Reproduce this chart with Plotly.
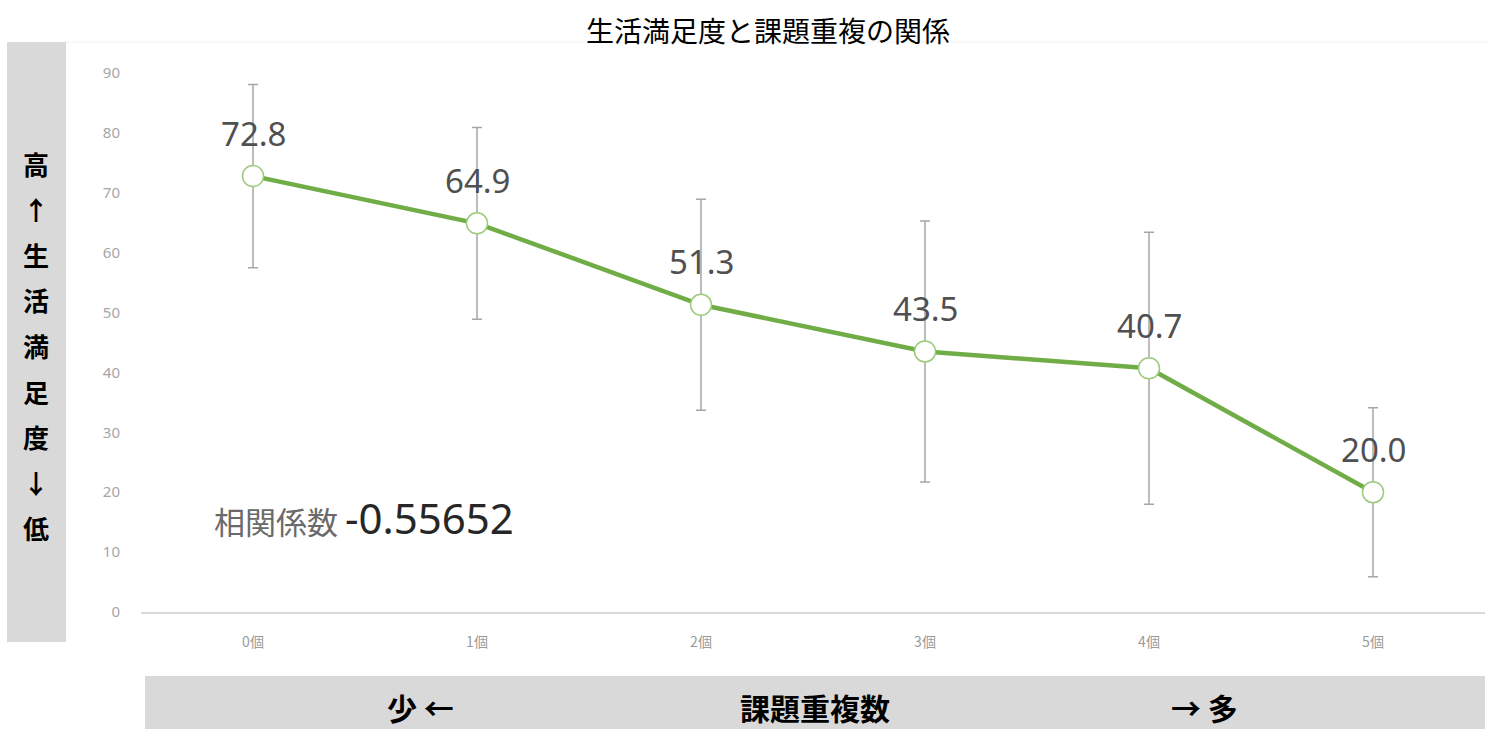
import plotly.graph_objects as go

# ---- data ----
categories = ["0個", "1個", "2個", "3個", "4個", "5個"]
satisfaction = [72.8, 64.9, 51.3, 43.5, 40.7, 20.0]
error_sd = [15.3, 16.0, 17.6, 21.8, 22.7, 14.1]
y_ticks = [0, 10, 20, 30, 40, 50, 60, 70, 80, 90]
corr_label = "相関係数"
corr_value = "-0.55652"
title_text = "生活満足度と課題重複の関係"
y_label_chars = ["高", "↑", "生", "活", "満", "足", "度", "↓", "低"]
x_label_left = "少 ←"
x_label_mid = "課題重複数"
x_label_right = "→ 多"

W, H = 1489, 729
ML, MR, MT, MB = 141, 4, 73, 117
PW = W - ML - MR
PH = H - MT - MB


def px_x(px):
    return (px - ML) / PW


def px_y(py):
    return (H - MB - py) / PH


FONT = "Noto Sans CJK JP"
GREEN = "#70AD47"

fig = go.Figure()
fig.add_trace(go.Scatter(
    x=categories, y=satisfaction, mode="lines+markers",
    line=dict(color=GREEN, width=4.5),
    marker=dict(size=21, color="white", line=dict(color="#9CCB7E", width=1.5)),
    error_y=dict(type="data", array=error_sd, visible=True,
                 color="#A6A6A6", thickness=1.5, width=5),
    showlegend=False, hoverinfo="x+y",
))

annotations = []
for c, v in zip(categories, satisfaction):
    annotations.append(dict(
        x=c, y=v, xref="x", yref="y", text=f"{v:.1f}", showarrow=False,
        yshift=43, font=dict(family="Noto Sans", size=33, color="#505050"),
        xanchor="center", yanchor="middle"))

# correlation
annotations.append(dict(
    x=px_x(212), y=px_y(517), xref="paper", yref="paper", xanchor="left", yanchor="middle",
    showarrow=False,
    text=(f"<span style='font-size:31px;color:#6a6a6a'>{corr_label} </span>"
          f"<span style='font-size:42px;color:#262626;font-family:Noto Sans'>{corr_value}</span>"),
    font=dict(family=FONT, size=31)))

# title
annotations.append(dict(
    x=px_x(768), y=px_y(30), xref="paper", yref="paper", xanchor="center", yanchor="middle",
    showarrow=False, text=title_text, font=dict(family=FONT, size=28, color="#000000")))

# y label characters
for i, ch in enumerate(y_label_chars):
    annotations.append(dict(
        x=px_x(36), y=px_y(163 + i * 45.6), xref="paper", yref="paper",
        xanchor="center", yanchor="middle", showarrow=False,
        text=f"<b>{ch}</b>", font=dict(family=FONT, size=26, color="#000000")))

# x label texts
for txt, cx in [(x_label_left, 420), (x_label_mid, 815), (x_label_right, 1204)]:
    annotations.append(dict(
        x=px_x(cx), y=px_y(707), xref="paper", yref="paper",
        xanchor="center", yanchor="middle", showarrow=False,
        text=f"<b>{txt}</b>", font=dict(family=FONT, size=30, color="#000000")))

shapes = [
    dict(type="rect", xref="paper", yref="paper", x0=px_x(7), x1=px_x(66),
         y0=px_y(642), y1=px_y(42), fillcolor="#D9D9D9", line=dict(width=0), layer="below"),
    dict(type="rect", xref="paper", yref="paper", x0=px_x(145), x1=px_x(1485),
         y0=px_y(729), y1=px_y(676), fillcolor="#D9D9D9", line=dict(width=0), layer="below"),
    dict(type="line", xref="paper", yref="paper", x0=px_x(66), x1=px_x(1489),
         y0=px_y(42), y1=px_y(42), line=dict(color="#F2F2F2", width=1)),
]

fig.update_layout(
    width=W, height=H,
    margin=dict(l=ML, r=MR, t=MT, b=MB, pad=0),
    paper_bgcolor="white", plot_bgcolor="white",
    annotations=annotations, shapes=shapes,
    xaxis=dict(type="category", range=[-0.5, len(categories) - 0.5],
               showgrid=False, zeroline=False, showline=True,
               linecolor="#D9D9D9", linewidth=1.5, ticks="",
               tickfont=dict(family=FONT, size=14, color="#9A9A9A"),
               ticklabelstandoff=16),
    yaxis=dict(range=[0, 90], tickvals=y_ticks, showgrid=False, zeroline=False,
               showline=False, ticks="",
               tickfont=dict(family="Noto Sans", size=15, color="#A6A6A6"),
               ticklabelstandoff=20),
)

fig.write_html(
    "out.html",
    config={"displayModeBar": False},
    post_script="document.body.style.margin='0';document.body.style.overflow='hidden';",
)
